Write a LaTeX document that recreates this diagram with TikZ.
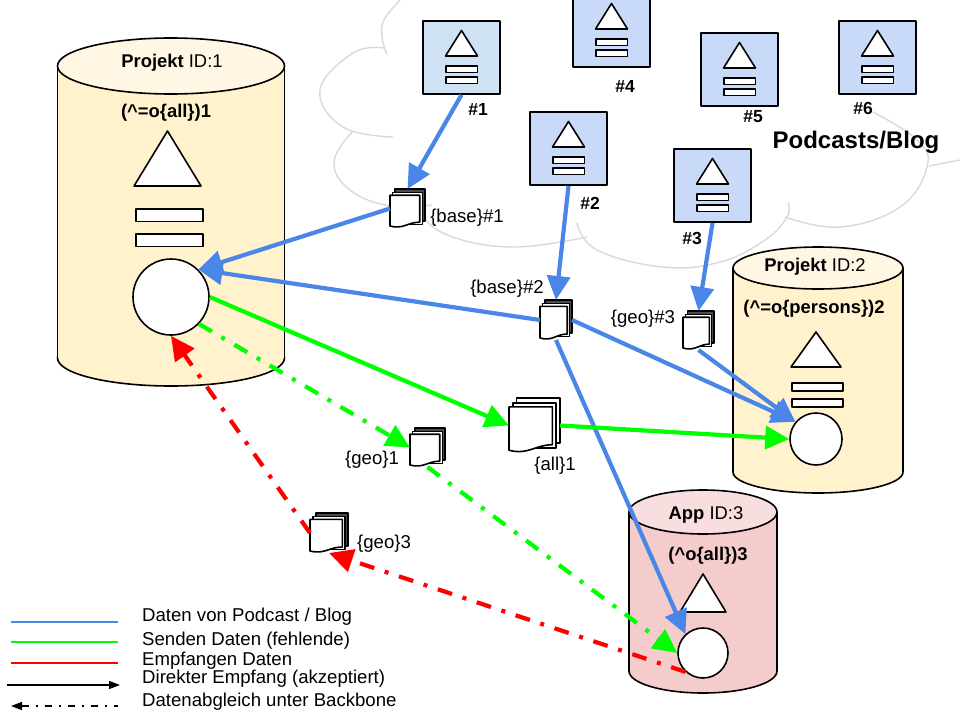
\documentclass[tikz,border=0pt]{standalone}
\usepackage{fontspec}
\setmainfont{Liberation Sans}
\usepackage{xcolor}
\usetikzlibrary{arrows.meta}
\definecolor{feedblue}{HTML}{4A86E8}
\definecolor{sendgreen}{HTML}{00FF00}
\definecolor{recvred}{HTML}{FF0000}
\definecolor{paleblue}{HTML}{CFE2F3}
\definecolor{feedfill}{HTML}{C9DAF8}
\definecolor{projbody}{HTML}{FFF2CC}
\definecolor{projlid}{HTML}{FFF7E3}
\definecolor{appbody}{HTML}{F4CCCC}
\definecolor{applid}{HTML}{F8DEDE}
\definecolor{cloudgrey}{HTML}{D9D9D9}
\tikzset{
  outline/.style={draw=black,line width=1.6pt,line join=round},
  feedbox/.style={outline,minimum width=77pt,minimum height=73pt,inner sep=0pt},
  hub/.style={outline,circle,fill=white,inner sep=0pt},
  docbox/.style={inner sep=0pt,outer sep=0pt},
  txt/.style={inner sep=0pt,font=\fontsize{18.6}{20}\selectfont},
  big/.style={inner sep=0pt,font=\fontsize{18.4}{20}\bfseries\selectfont},
  num/.style={inner sep=0pt,font=\fontsize{17.5}{20}\bfseries\selectfont},
  cloudline/.style={cloudgrey,line width=1.4pt},
  flow/.style={line width=4.2pt,-{Triangle[length=24pt,width=23pt]}},
  dashdot/.style={dash pattern=on 15pt off 11pt on 4pt off 11pt},
}
\begin{document}
\begin{tikzpicture}[x=1pt,y=-1pt]
\useasboundingbox (0,0) rectangle (960,720);
% cloud behind the feeds
\draw[cloudline] plot[smooth,tension=0.7] coordinates {(400,0) (384,20) (382,37) (387,55)};
\draw[cloudline] plot[smooth,tension=0.7] coordinates {(384,48) (353,53) (320,90) (343,127) (393,137)};
\draw[cloudline] plot[smooth,tension=0.7] coordinates {(352,132) (334,162) (350,190) (390,206) (432,205)};
\draw[cloudline] plot[smooth,tension=0.7] coordinates {(415,205) (443,233) (510,247) (587,237)};
\draw[cloudline] plot[smooth,tension=0.7] coordinates {(577,223) (597,250) (663,267) (720,262) (765,240) (787,217) (788,203)};
\draw[cloudline] plot[smooth,tension=0.7] coordinates {(785,217) (840,227) (900,207) (927,167) (917,140) (873,112)};
\draw[cloudline] (929,166) -- (960,160);
% cylinders
\foreach \cx/\rx/\ytop/\ybot/\ry/\cb/\cl in {171/113.5/66/358/28/projbody/projlid,818/85/268/472/21/projbody/projlid,703/74/512/671/22/appbody/applid}{
  \draw[outline,fill=\cb] (\cx,\ybot) ellipse [x radius=\rx,y radius=\ry];
  \fill[\cb] (\cx-\rx,\ytop) rectangle (\cx+\rx,\ybot);
  \draw[outline] (\cx-\rx,\ytop) -- (\cx-\rx,\ybot);
  \draw[outline] (\cx+\rx,\ytop) -- (\cx+\rx,\ybot);
  \draw[outline,fill=\cl] (\cx,\ytop) ellipse [x radius=\rx,y radius=\ry];
}
% triangles and bars inside the cylinders
\foreach \tx/\ty/\by/\hw/\bl/\br/\ba/\bb/\bh in {167.5/131/186/33.5/136/203/209/234/12.5,816/332/367/25/792/843/383/399/8}{
  \draw[outline,fill=white] (\tx,\ty) -- (\tx+\hw,\by) -- (\tx-\hw,\by) -- cycle;
  \draw[outline,fill=white] (\bl,\ba) rectangle (\br,\ba+\bh);
  \draw[outline,fill=white] (\bl,\bb) rectangle (\br,\bb+\bh);
}
\draw[outline,fill=white] (703,574) -- (726,612) -- (680,612) -- cycle;
\node[hub,minimum size=76pt] (c1) at (171,297) {};
\node[hub,minimum size=52pt] (c2) at (816,439) {};
\node[hub,minimum size=50pt] (c3) at (703,653) {};
\node[big] (p1) at (172,63) {Projekt \mdseries ID:1};
\node[big] (p2) at (815,267) {Projekt \mdseries ID:2};
\node[big] (p3) at (706,515) {App \mdseries ID:3};
\node[big] (f1) at (166,113) {(\textasciicircum=o\{all\})1};
\node[big] (f2) at (814,309) {(\textasciicircum=o\{persons\})2};
\node[big] (f3) at (708,556) {(\textasciicircum o\{all\})3};
% podcast feeds
\foreach \n/\x/\y/\c/\lx/\ly/\t in {b1/461.5/57.5/paleblue/478/109/1,b2/568.5/148.5/feedfill/590/203/2,b3/712.5/185.5/feedfill/692/238/3,b4/611.5/30.5/feedfill/625/86/4,b5/739.5/69.5/feedfill/753/117/5,b6/877.5/57.5/feedfill/863/108/6}{
  \node[feedbox,fill=\c] (\n) at (\x,\y) {};
  \draw[outline,fill=white] (\x,\y-27) -- (\x+16,\y-1.5) -- (\x-16,\y-1.5) -- cycle;
  \draw[outline,fill=white] (\x-15.5,\y+8.5) rectangle (\x+16,\y+15);
  \draw[outline,fill=white] (\x-15.5,\y+19.5) rectangle (\x+16,\y+26);
  \node[num] (\n lab) at (\lx,\ly) {\#\t};
}
\node[inner sep=0pt,font=\fontsize{24}{26}\bfseries\selectfont] (title) at (856,142) {Podcasts/Blog};
% documents: node covers the whole stack
\foreach \n/\x/\y/\w/\h/\cc in {d1/407.5/208.5/35/39/black!70,d2/556/320/32/40/black!70,d3/698.5/330.5/31/39/black!70,all/534.5/425.5/51/55/white,g1/427.5/447.5/35/39/black!70,g3/329/533/38/40/black!70}{
  \node[docbox,minimum width=\w pt,minimum height=\h pt] (\n) at (\x,\y) {};
  \pgfmathsetmacro{\pw}{0.85*\w}
  \pgfmathsetmacro{\ph}{0.82*\h}
  \draw[outline,fill=\cc] (\x-\w/2+\w-\pw,\y-\h/2) rectangle (\x+\w/2,\y-\h/2+\ph);
  \draw[outline,fill=white] (\x-\w/2+0.5*\w-0.5*\pw,\y-\h/2+0.09*\h) rectangle (\x+\w/2-0.075*\w,\y-\h/2+0.09*\h+\ph);
  \draw[outline,fill=white] (\x-\w/2,\y+\h/2-\ph-0.02*\h) -- (\x-\w/2+\pw,\y+\h/2-\ph-0.02*\h) -- (\x-\w/2+\pw,\y+\h/2-0.15*\h)
    .. controls (\x-\w/2+0.6*\pw,\y+\h/2-0.15*\h) and (\x-\w/2+0.45*\pw,\y+\h/2+0.04*\h) .. (\x-\w/2,\y+\h/2-0.05*\h) -- cycle;
}
\node[txt] (d1lab) at (467,218) {\{base\}\#1};
\node[txt] (d2lab) at (507,289) {\{base\}\#2};
\node[txt] (d3lab) at (643,319) {\{geo\}\#3};
\node[txt] (alllab) at (555,466) {\{all\}1};
\node[txt] (g1lab) at (372,460) {\{geo\}1};
\node[txt] (g3lab) at (384,544) {\{geo\}3};
% data flows
\draw[flow,feedblue] (b1.south) -- (d1.north);
\draw[flow,feedblue] (b2.south) -- (d2.north);
\draw[flow,feedblue] (b3.south) -- (d3.north);
\draw[flow,feedblue] (d1.west) -- (c1.45);
\draw[flow,feedblue] (d2.west) -- (c1.45);
\draw[flow,feedblue] (d2.east) -- (c2.140);
\draw[flow,feedblue] (d3.south) -- (c2.140);
\draw[flow,feedblue] (d2.south) -- (c3.133);
\draw[flow,sendgreen] (c1.0) -- (all.west);
\draw[flow,sendgreen] (all.east) -- (c2.180);
\draw[flow,sendgreen,dashdot] (c1.-44) -- (g1.west);
\draw[flow,sendgreen,dashdot] (g1.south) -- (c3.180);
\draw[flow,recvred,dashdot] (c3.227) -- (g3.south);
\draw[flow,recvred,dashdot] (g3.west) -- (c1.-90);
% legend
\foreach \i/\y/\ty/\c/\t in {1/622/616.5/feedblue/{Daten von Podcast / Blog},2/642/640.5/sendgreen/{Senden Daten (fehlende)},3/663/661/recvred/{Empfangen Daten}}{
  \coordinate (la\i) at (11,\y);
  \coordinate (lb\i) at (118,\y);
  \draw[\c,line width=1.4pt] (la\i) -- (lb\i);
  \node[txt,anchor=west] (lt\i) at (142,\ty) {\t};
}
\coordinate (la4) at (7,685);
\coordinate (lb4) at (120,685);
\draw[line width=1.4pt,-{Triangle[length=11pt,width=8pt]}] (la4) -- (lb4);
\node[txt,anchor=west] (lt4) at (142,679) {Direkter Empfang (akzeptiert)};
\coordinate (la5) at (11,706);
\coordinate (lb5) at (118,706);
\draw[line width=1.4pt,dash pattern=on 7pt off 7pt on 2pt off 7pt,{Triangle[length=11pt,width=8pt]}-] (la5) -- (lb5);
\node[txt,anchor=west] (lt5) at (142,701.5) {Datenabgleich unter Backbone};
\end{tikzpicture}
\end{document}
